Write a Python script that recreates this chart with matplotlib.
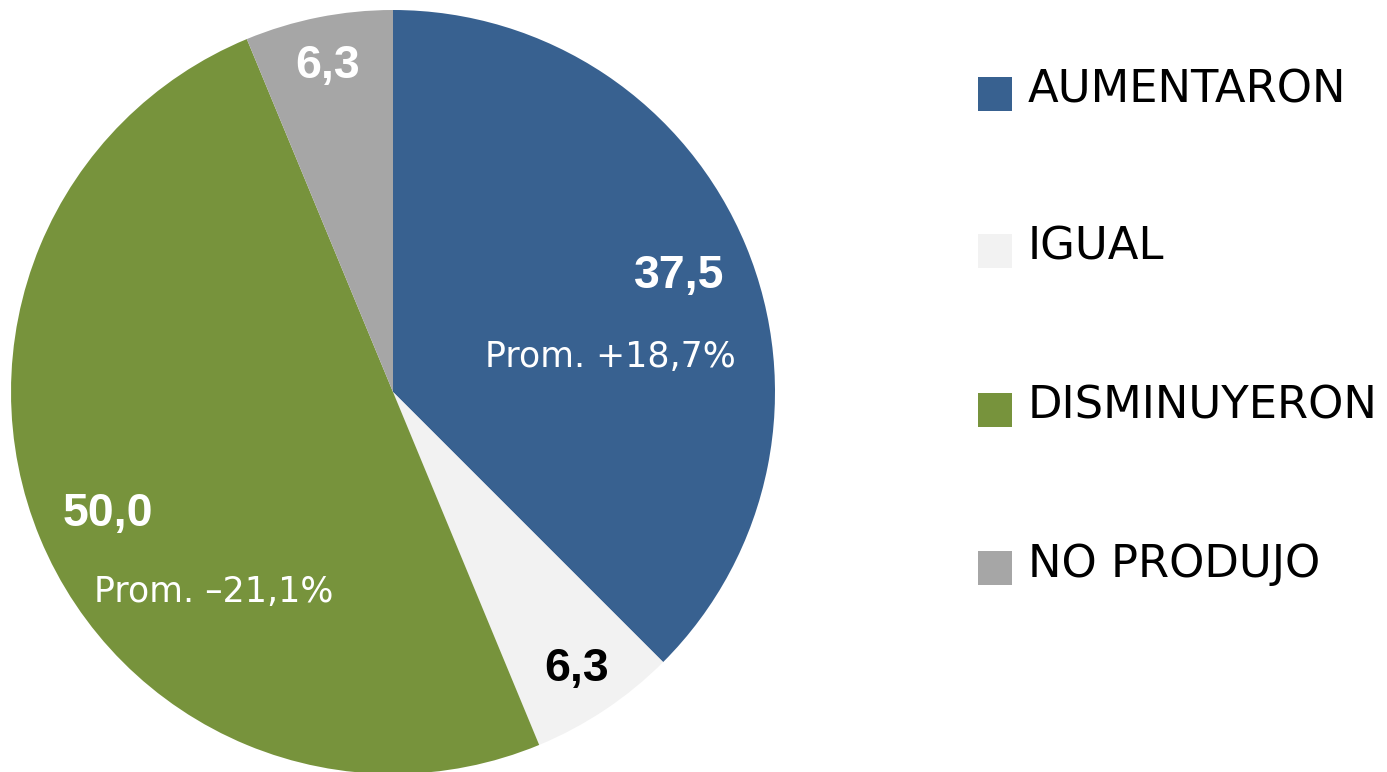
import matplotlib
matplotlib.use("Agg")
import matplotlib.pyplot as plt
from matplotlib.patches import Rectangle

categories = ["AUMENTARON", "IGUAL", "DISMINUYERON", "NO PRODUJO"]
values = [37.5, 6.25, 50.0, 6.25]
value_labels = ["37,5", "6,3", "50,0", "6,3"]
prom_labels = ["Prom. +18,7%", None, "Prom. \u201321,1%", None]
colors = ["#386190", "#F2F2F2", "#77933C", "#A6A6A6"]
label_colors = ["white", "black", "white", "white"]

W, H = 1387, 772
fig = plt.figure(figsize=(W / 100, H / 100), dpi=100)
cx, cy, r = 393, 392, 382
ax = fig.add_axes([(cx - r) / W, (H - cy - r) / H, 2 * r / W, 2 * r / H])
ax.pie(values, colors=colors, startangle=90, counterclock=False, radius=1,
       wedgeprops=dict(linewidth=0))
ax.set_xlim(-1, 1)
ax.set_ylim(-1, 1)
ax.set_aspect("auto")
ax.axis("off")

def d(px, py):
    return (px - cx) / r, (cy - py) / r

val_pos = [d(679, 276), d(577, 669), d(108, 514), d(328, 66)]
prom_pos = [d(610, 357), None, d(214, 592), None]
for i in range(len(values)):
    x, y = val_pos[i]
    ax.text(x, y, value_labels[i], ha="center", va="center", fontsize=33.5,
            fontweight="bold", color=label_colors[i], family="Liberation Sans")
    if prom_labels[i]:
        x, y = prom_pos[i]
        ax.text(x, y, prom_labels[i], ha="center", va="center", fontsize=25,
                color="white", family="DejaVu Sans")

leg_y = [90, 247, 406, 564]
for i, cat in enumerate(categories):
    y = leg_y[i] + 4
    fig.patches.append(Rectangle((978 / W, (H - y - 17) / H), 34 / W, 34 / H,
                                 transform=fig.transFigure, facecolor=colors[i],
                                 edgecolor="none"))
    fig.text(1028 / W, (H - leg_y[i]) / H, cat, ha="left", va="center", fontsize=32.3,
             color="black", family="DejaVu Sans")

fig.savefig("out.png", dpi=100)
